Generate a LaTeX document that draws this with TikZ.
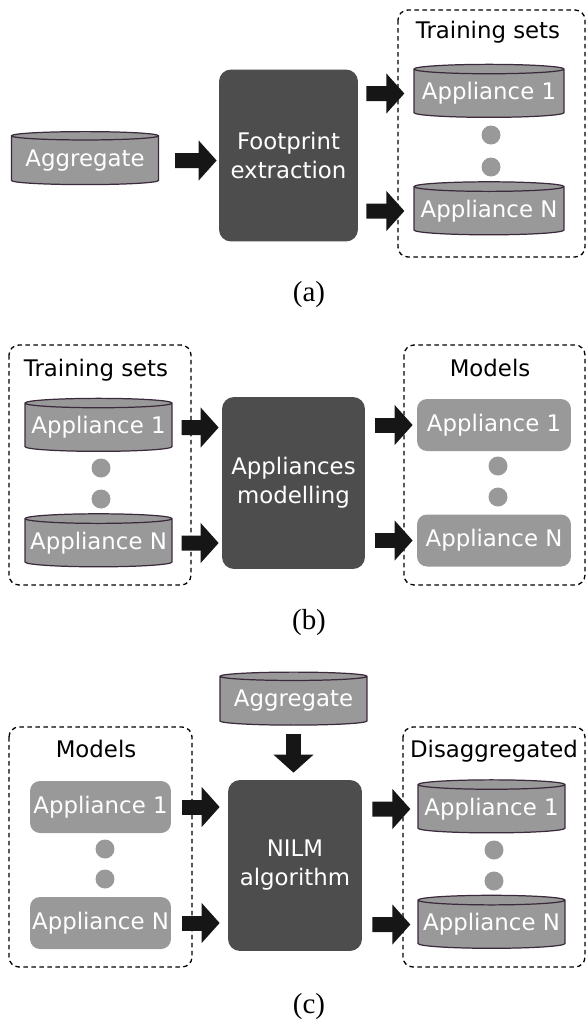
\documentclass[tikz,border=0pt]{standalone}
\usepackage{fontspec}
\setmainfont{Liberation Serif}
\setsansfont{DejaVu Sans}
\usetikzlibrary{arrows.meta, shapes.geometric}

\definecolor{storegray}{HTML}{999999}
\definecolor{storeline}{HTML}{3B2A3B}
\definecolor{stagegray}{HTML}{4D4D4D}
\definecolor{flowblack}{HTML}{161616}

\begin{document}
\begin{tikzpicture}[x=0.02cm, y=-0.02cm,
  every node/.style={font=\sffamily\fontsize{13}{16.5}\selectfont},
  store node/.style={cylinder, shape border rotate=90, aspect=0.07, draw=storeline,
    line width=0.7pt, fill=storegray, text=white, minimum width=2.94cm,
    minimum height=1.06cm, inner sep=0pt},
  model node/.style={rectangle, rounded corners=0.2cm, fill=storegray, text=white,
    minimum height=1.04cm, inner sep=0pt},
  stage node/.style={rectangle, rounded corners=0.24cm, fill=stagegray, text=white,
    align=center, minimum height=3.44cm, inner sep=0pt},
  dot node/.style={circle, fill=storegray, minimum size=0.38cm, inner sep=0pt},
  group box/.style={draw, line width=0.75pt, dash pattern=on 0.09cm off 0.07cm, rounded corners=0.2cm},
  group title/.style={anchor=base, text=black},
  caption/.style={anchor=base, font=\rmfamily\fontsize{16.5}{19}\selectfont},
  flow arrow/.style={flowblack, line width=0.3cm, -{Triangle[length=0.36cm, width=0.78cm]}}]
  \useasboundingbox (0,0) rectangle (586,1019);

  % (a) footprint extraction
  \node[store node] (agg) at (85,160.5) {Aggregate};
  \node[stage node, minimum width=2.78cm] (fe) at (288.5,155.5) {Footprint\\extraction};
  \draw[group box] (398,10) rectangle (585,257);
  \node[group title] (tsa) at (488,38) {Training sets};
  \node[store node, minimum width=3cm] (a1) at (489,93.5) {Appliance 1};
  \node[dot node] (a1dot) at (491,135) {};
  \node[dot node] (aNdot) at (491,167) {};
  \node[store node, minimum width=3cm] (aN) at (489,211) {Appliance N};
  \node[caption] (capa) at (309,301) {(a)};
  \draw[flow arrow, shorten <=0.32cm, shorten >=0.04cm] (agg) -- (agg -| fe.west);
  \draw[flow arrow, shorten <=0.16cm, shorten >=0.18cm] (a1 -| fe.east) -- (a1);
  \draw[flow arrow, shorten <=0.16cm, shorten >=0.18cm] (aN -| fe.east) -- (aN);

  % (b) appliances modelling
  \draw[group box] (9,345) rectangle (191,585);
  \node[group title] (tsb) at (96,376) {Training sets};
  \node[store node] (t1) at (98.5,427.5) {Appliance 1};
  \node[dot node] (t1dot) at (101,468) {};
  \node[dot node] (tNdot) at (101,499) {};
  \node[store node] (tN) at (98.5,543) {Appliance N};
  \node[stage node, minimum width=2.86cm] (am) at (293.5,483) {Appliances\\modelling};
  \draw[group box] (404,345) rectangle (585,585);
  \node[group title] (mdb) at (490,376) {Models};
  \node[model node, minimum width=3.08cm] (m1) at (494,425) {Appliance 1};
  \node[dot node] (m1dot) at (498,466) {};
  \node[dot node] (mNdot) at (498,497) {};
  \node[model node, minimum width=3.08cm] (mN) at (494,540.5) {Appliance N};
  \node[caption] (capb) at (309,629) {(b)};
  \draw[flow arrow, shorten <=0.18cm, shorten >=0.06cm] (t1) -- (t1 -| am.west);
  \draw[flow arrow, shorten <=0.18cm, shorten >=0.06cm] (tN) -- (tN -| am.west);
  \draw[flow arrow, shorten <=0.2cm, shorten >=0.08cm] (m1 -| am.east) -- (m1);
  \draw[flow arrow, shorten <=0.2cm, shorten >=0.08cm] (mN -| am.east) -- (mN);

  % (c) disaggregation
  \node[store node] (agg2) at (293.5,701) {Aggregate};
  \draw[group box] (9,727) rectangle (192,967);
  \node[group title] (mdc) at (96,757) {Models};
  \node[model node, minimum width=2.82cm] (mm1) at (100.5,807) {Appliance 1};
  \node[dot node] (mm1dot) at (105,849) {};
  \node[dot node] (mmNdot) at (105,879) {};
  \node[model node, minimum width=2.82cm] (mmN) at (100.5,923) {Appliance N};
  \node[stage node, minimum width=2.68cm, minimum height=3.42cm] (nilm) at (295,865.5) {NILM\\algorithm};
  \draw[group box] (403,727) rectangle (585,967);
  \node[group title] (dis) at (494,757) {Disaggregated};
  \node[store node] (d1) at (491.5,809) {Appliance 1};
  \node[dot node] (d1dot) at (494,850) {};
  \node[dot node] (dNdot) at (494,881) {};
  \node[store node] (dN) at (491.5,924.5) {Appliance N};
  \node[caption] (capc) at (309,1013) {(c)};
  \draw[flow arrow, shorten <=0.16cm, shorten >=0.14cm] (agg2) -- (agg2 |- nilm.north);
  \draw[flow arrow, shorten <=0.22cm, shorten >=0.16cm] (mm1) -- (mm1 -| nilm.west);
  \draw[flow arrow, shorten <=0.22cm, shorten >=0.16cm] (mmN) -- (mmN -| nilm.west);
  \draw[flow arrow, shorten <=0.2cm, shorten >=0.14cm] (d1 -| nilm.east) -- (d1);
  \draw[flow arrow, shorten <=0.2cm, shorten >=0.14cm] (dN -| nilm.east) -- (dN);
\end{tikzpicture}
\end{document}
